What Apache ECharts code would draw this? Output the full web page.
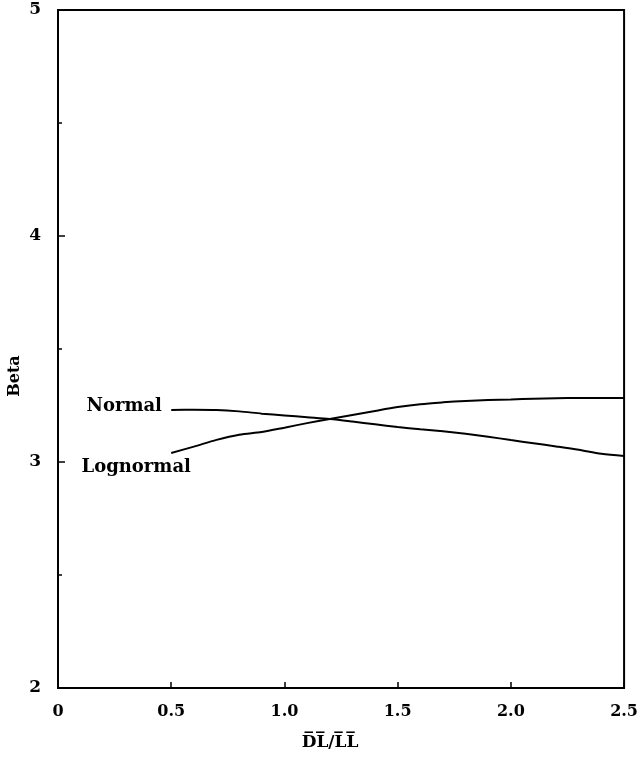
<!DOCTYPE html>
<html>
<head>
<meta charset="utf-8">
<script src="https://cdn.jsdelivr.net/npm/echarts@6/dist/echarts.min.js"></script>
<style>
  html, body { margin: 0; padding: 0; background: #fff; overflow: hidden; }
  #chart { width: 641px; height: 761px; }
</style>
</head>
<body>
<div id="chart"></div>
<script>
// Ratio of mean dead load to mean live load
const ratio = [0.5, 0.6, 0.7, 0.8, 0.9, 1.0, 1.1, 1.2, 1.3, 1.4, 1.5,
               1.6, 1.7, 1.8, 1.9, 2.0, 2.1, 2.2, 2.3, 2.4, 2.5];
// Reliability index (beta) for each distribution assumption
const betaNormal = [3.230, 3.231, 3.230, 3.224, 3.214, 3.206, 3.198, 3.190, 3.179, 3.167, 3.155,
                    3.145, 3.136, 3.125, 3.112, 3.097, 3.083, 3.069, 3.054, 3.036, 3.027];
const betaLognormal = [3.040, 3.068, 3.098, 3.121, 3.133, 3.152, 3.172, 3.190, 3.208, 3.226, 3.243,
                       3.256, 3.264, 3.270, 3.274, 3.277, 3.280, 3.282, 3.283, 3.283, 3.283];
const seriesNames = ['Normal', 'Lognormal'];
const xTicks = [0, 0.5, 1.0, 1.5, 2.0, 2.5];

const serif = '"DejaVu Serif", "Liberation Serif", serif';
const pairs = (ys) => ratio.map((x, i) => [x, ys[i]]);

function startLabel(name, ys, offset) {
  return {
    symbol: 'circle',
    symbolSize: 0,
    silent: true,
    data: [{
      coord: [ratio[0], ys[0]],
      label: {
        show: true,
        formatter: name,
        position: 'inside',
        offset: offset,
        align: 'center',
        verticalAlign: 'middle',
        color: '#000',
        fontFamily: serif,
        fontWeight: 'bold',
        fontSize: 18
      }
    }]
  };
}

const chart = echarts.init(document.getElementById('chart'), null, { renderer: 'canvas', width: 641, height: 761 });
chart.setOption({
  backgroundColor: '#fff',
  animation: false,
  grid: {
    left: 58, right: 13, top: 10, bottom: 73,
    show: true, borderColor: '#000', borderWidth: 2
  },
  xAxis: {
    type: 'value',
    min: 0, max: 2.5, interval: 0.5,
    name: 'D\u0305L\u0305/L\u0305L\u0305',
    nameLocation: 'middle',
    nameGap: 46,
    nameTextStyle: { color: '#000', fontFamily: serif, fontWeight: 'bold', fontSize: 17, padding: [0, 22, 0, 0] },
    axisLine: { show: true, lineStyle: { color: '#000', width: 2 } },
    axisTick: { show: true, inside: true, length: 6, lineStyle: { color: '#000', width: 1.5 } },
    splitLine: { show: false },
    axisLabel: {
      color: '#000', fontFamily: serif, fontWeight: 'bold', fontSize: 16, margin: 16,
      formatter: (v) => {
        const t = xTicks.find((k) => Math.abs(k - v) < 1e-9);
        return t === 0 ? '0' : t.toFixed(1);
      }
    }
  },
  yAxis: {
    type: 'value',
    min: 2, max: 5, interval: 1,
    axisLine: { show: true, lineStyle: { color: '#000', width: 2 } },
    axisTick: { show: true, inside: true, length: 7, lineStyle: { color: '#000', width: 1.5 } },
    minorTick: { show: true, splitNumber: 2, length: 4, lineStyle: { color: '#000', width: 1.5 } },
    splitLine: { show: false },
    axisLabel: { color: '#000', fontFamily: serif, fontWeight: 'bold', fontSize: 17, margin: 17 }
  },
  graphic: [{
    type: 'text',
    x: 15, y: 376,
    rotation: Math.PI / 2,
    style: {
      text: 'Beta',
      x: 0, y: 0,
      align: 'center',
      verticalAlign: 'middle',
      fill: '#000',
      font: 'bold 16px ' + serif
    }
  }],
  series: [
    {
      name: seriesNames[0],
      type: 'line',
      data: pairs(betaNormal),
      smooth: 0.3,
      showSymbol: false,
      lineStyle: { color: '#000', width: 2 },
      markPoint: startLabel(seriesNames[0], betaNormal, [-47, -4])
    },
    {
      name: seriesNames[1],
      type: 'line',
      data: pairs(betaLognormal),
      smooth: 0.3,
      showSymbol: false,
      lineStyle: { color: '#000', width: 2 },
      markPoint: startLabel(seriesNames[1], betaLognormal, [-35, 14])
    }
  ]
});
</script>
</body>
</html>
